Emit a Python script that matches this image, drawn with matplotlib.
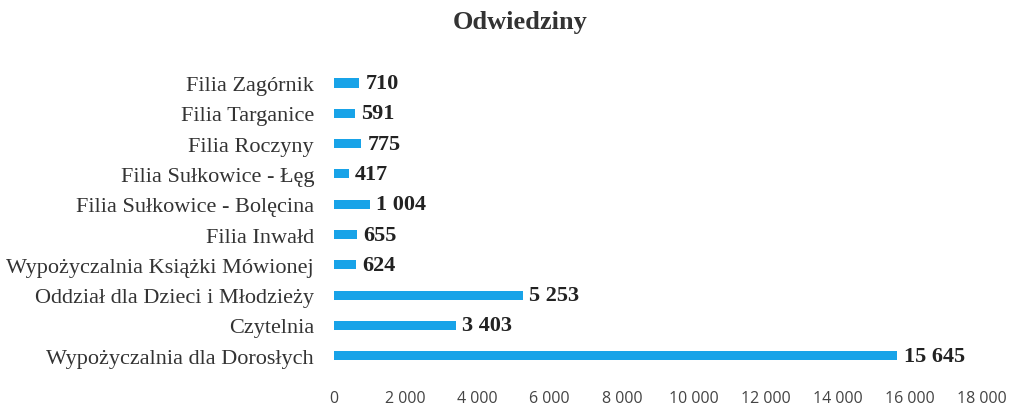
import matplotlib.pyplot as plt
from matplotlib.ticker import FuncFormatter

# data, bottom to top as drawn
categories = ["Wypożyczalnia dla Dorosłych", "Czytelnia",
              "Oddział dla Dzieci i Młodzieży", "Wypożyczalnia Książki Mówionej",
              "Filia Inwałd", "Filia Sułkowice - Bolęcina", "Filia Sułkowice - Łęg",
              "Filia Roczyny", "Filia Targanice", "Filia Zagórnik"]
visits = [15645, 3403, 5253, 624, 655, 1004, 417, 775, 591, 710]

def fmt(v, pos=None):
    return f"{int(v):,}".replace(",", " ")

fig = plt.figure(figsize=(10.2, 4.1), dpi=100)
ax = fig.add_axes([0.327, 0.093, 0.636, 0.739])

ypos = range(len(categories))
ax.barh(ypos, visits, height=0.3, color="#18a3e8")

for y, v in zip(ypos, visits):
    ax.text(v + 170, y, fmt(v), va="center", ha="left",
            family="Liberation Serif", fontweight="bold", fontsize=16, color="#222222")

ax.set_xlim(0, 18000)
ax.set_ylim(-0.5, len(categories) - 0.5)
ax.set_xticks(range(0, 18001, 2000))
ax.xaxis.set_major_formatter(FuncFormatter(fmt))
ax.set_yticks(list(ypos))
ax.set_yticklabels(categories, family="Liberation Serif", fontsize=16, color="#333333")

for lbl in ax.get_xticklabels():
    lbl.set_family("Open Sans")
    lbl.set_fontsize(11.5)
    lbl.set_color("#444444")

ax.tick_params(axis="x", length=0, pad=14)
ax.tick_params(axis="y", length=0, pad=14)
for s in ax.spines.values():
    s.set_visible(False)

fig.text(0.51, 0.945, "Odwiedziny", ha="center", va="center",
         family="Liberation Serif", fontweight="bold", fontsize=19, color="#333333")

fig.savefig("out.png", dpi=100)
